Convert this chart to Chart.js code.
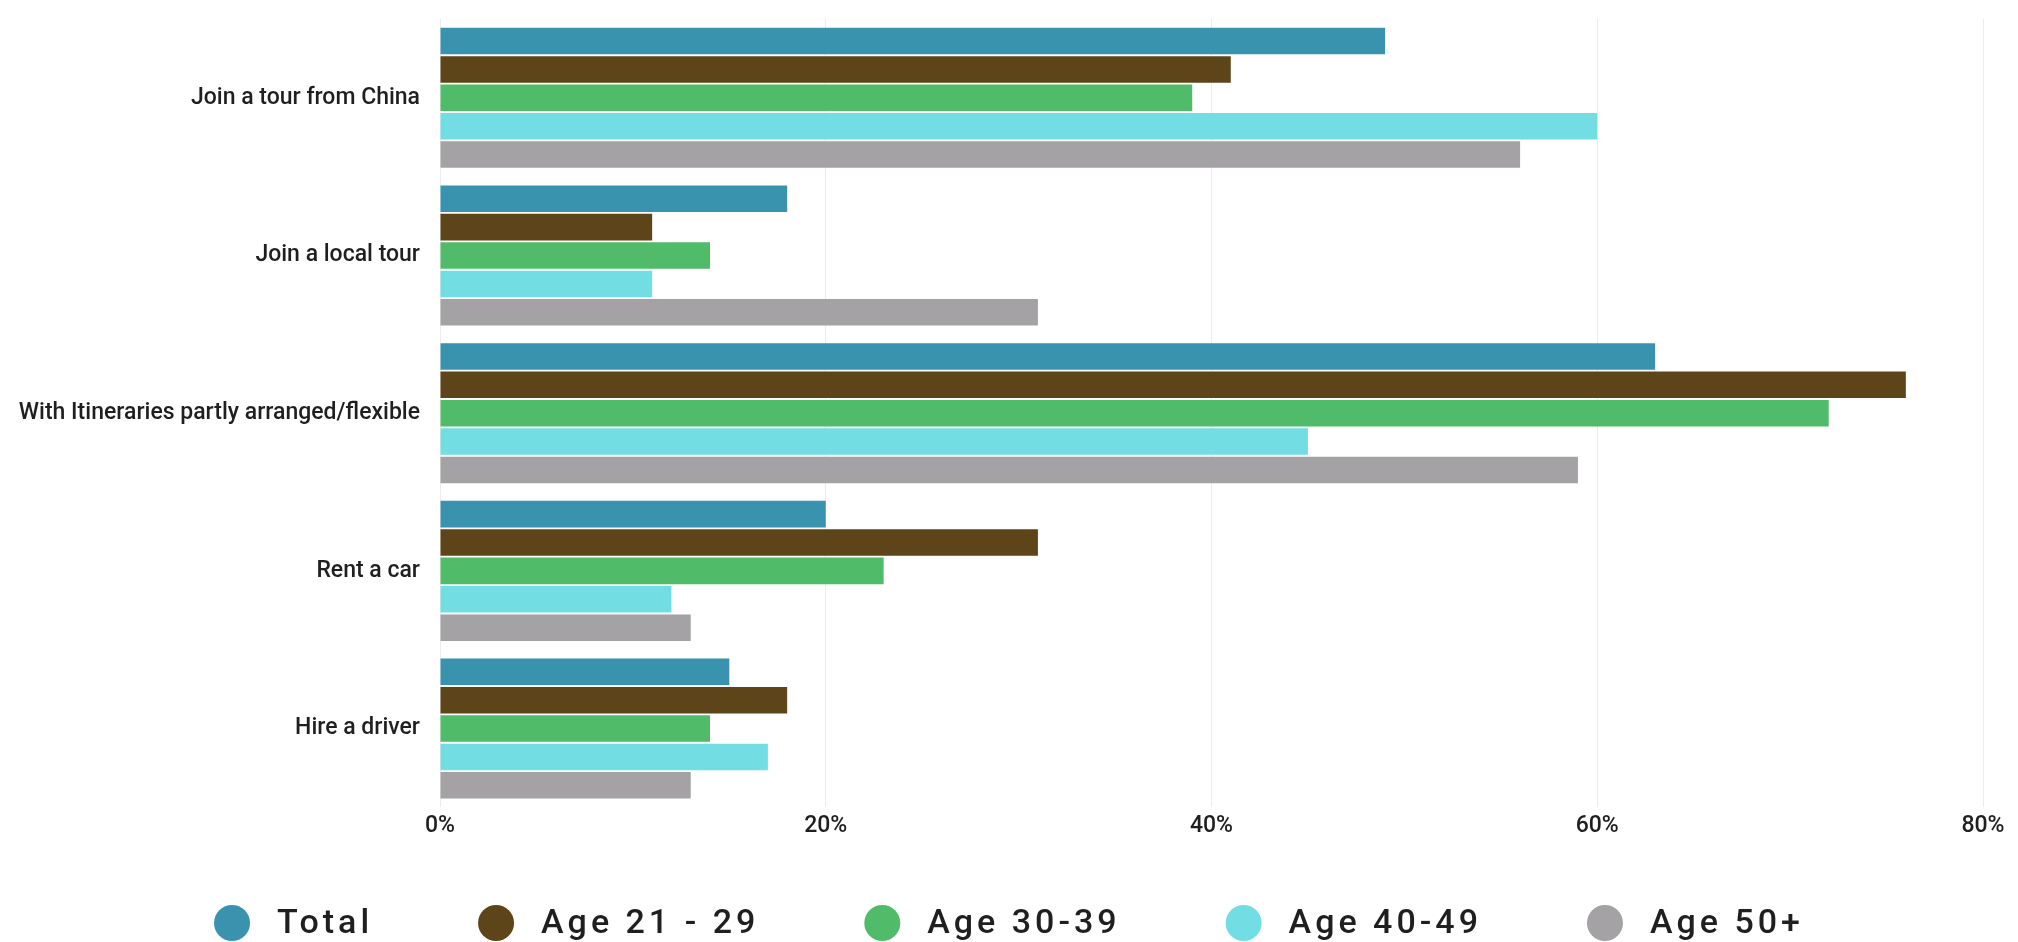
<!DOCTYPE html>
<html>
<head>
<meta charset="utf-8">
<title>Travel arrangements by age group</title>
<script src="https://cdn.jsdelivr.net/npm/chart.js@4/dist/chart.umd.min.js"></script>
<style>
  html, body { margin: 0; padding: 0; background: #ffffff; }
  #wrap { width: 2018px; height: 942px; position: relative; }
</style>
</head>
<body>
<div id="wrap"><canvas id="chart"></canvas></div>
<script>
// Travel arrangement options (y categories)
const categories = [
  'Join a tour from China',
  'Join a local tour',
  'With Itineraries partly arranged/flexible',
  'Rent a car',
  'Hire a driver'
];

// Share of respondents (%) per group
const total    = [49, 18, 63, 20, 15];
const age21_29 = [41, 11, 76, 31, 18];
const age30_39 = [39, 14, 72, 23, 14];
const age40_49 = [60, 11, 45, 12, 17];
const age50up  = [56, 31, 59, 13, 13];

const seriesNames = ['Total', 'Age 21 - 29', 'Age 30-39', 'Age 40-49', 'Age 50+'];
const seriesData  = [total, age21_29, age30_39, age40_49, age50up];
const seriesColors = ['#3a93ae', '#5e4519', '#50bb68', '#72dde3', '#a4a2a4'];

// x axis ticks
const xTickMax = 80;
const xTickStep = 20;

const FONT = "Roboto, 'Noto Sans', sans-serif";
const INK = '#1f1f1f';

// Legend drawn under the axis: round swatches + letter-spaced names
const dotLegend = {
  id: 'dotLegend',
  afterDraw(chart) {
    const ctx = chart.ctx;
    const r = 18, gapText = 27, gapItem = 105;
    ctx.save();
    ctx.font = '500 34px ' + FONT;
    ctx.letterSpacing = '4px';
    const widths = seriesNames.map(n => ctx.measureText(n).width);
    const itemW = widths.map(w => 2 * r + gapText + w);
    const full = itemW.reduce((a, b) => a + b, 0) + gapItem * (itemW.length - 1);
    let x = (chart.width - full) / 2;
    const y = chart.height - 19;
    seriesNames.forEach((name, i) => {
      ctx.fillStyle = seriesColors[i];
      ctx.beginPath();
      ctx.arc(x + r, y, r, 0, Math.PI * 2);
      ctx.fill();
      ctx.fillStyle = INK;
      ctx.textBaseline = 'middle';
      ctx.textAlign = 'left';
      ctx.fillText(name, x + 2 * r + gapText, y + 1);
      x += itemW[i] + gapItem;
    });
    ctx.restore();
  }
};

new Chart(document.getElementById('chart'), {
  type: 'bar',
  data: {
    labels: categories,
    datasets: seriesNames.map((name, i) => ({
      label: name,
      data: seriesData[i],
      backgroundColor: seriesColors[i],
      borderWidth: 0,
      categoryPercentage: 0.9,
      barPercentage: 0.935
    }))
  },
  options: {
    indexAxis: 'y',
    responsive: true,
    maintainAspectRatio: false,
    animation: false,
    layout: { padding: { top: 19, right: 35, bottom: 97, left: 0 } },
    plugins: {
      legend: { display: false },
      tooltip: { enabled: false }
    },
    scales: {
      x: {
        min: 0,
        max: xTickMax,
        ticks: {
          stepSize: xTickStep,
          padding: 5,
          color: INK,
          font: { family: FONT, size: 23, weight: '500' },
          callback: v => v + '%'
        },
        grid: { color: '#ececec', drawTicks: false },
        border: { display: false },
        afterFit(scale) { scale.paddingLeft = 0; scale.paddingRight = 0; }
      },
      y: {
        ticks: {
          padding: 20,
          color: INK,
          font: { family: FONT, size: 23, weight: '500' }
        },
        grid: { display: false, drawTicks: false },
        border: { display: false },
        afterFit(scale) {
          scale.width = 440;
          scale.paddingTop = 0;
          scale.paddingBottom = 0;
        }
      }
    }
  },
  plugins: [dotLegend]
});
</script>
</body>
</html>
